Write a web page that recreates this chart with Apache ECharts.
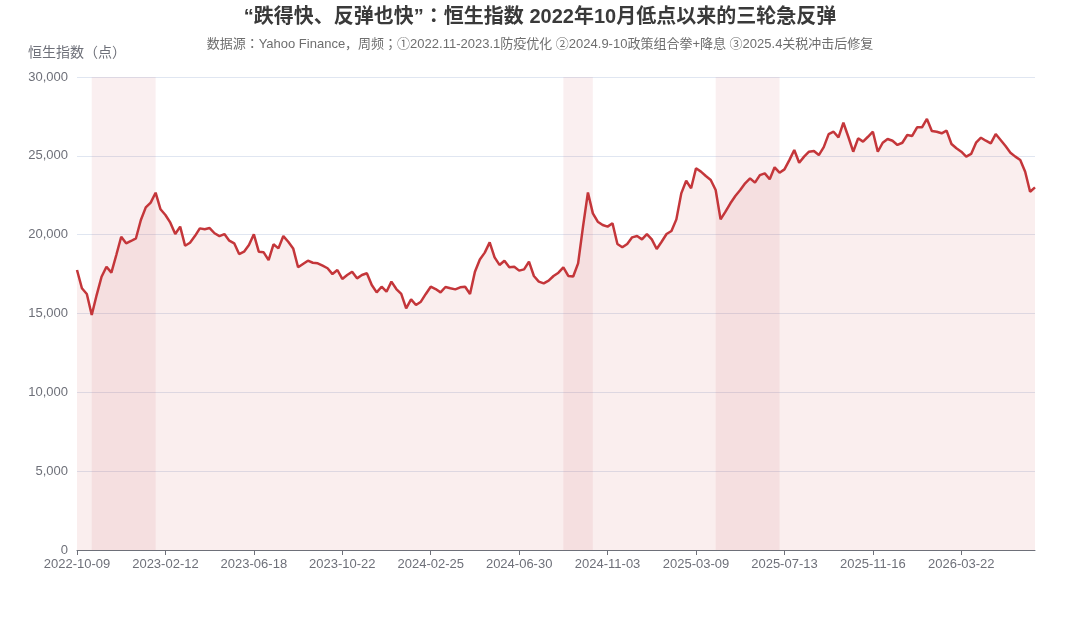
<!DOCTYPE html>
<html>
<head>
<meta charset="utf-8">
<script src="https://cdn.jsdelivr.net/npm/echarts@6/dist/echarts.min.js"></script>
<style>
html,body{margin:0;padding:0;background:#fff;}
#chart{width:1080px;height:617px;}
</style>
</head>
<body>
<div id="chart"></div>
<script>
// ---- data ----
var startDate = '2022-10-09';
var weekCount = 196;
var hsiWeekly = [
  17760,16600,16240,14900,16170,17330,17970,17590,18710,19870,
  19450,19600,19770,20930,21730,22030,22660,21610,21250,20760,
  20040,20510,19300,19490,19910,20400,20340,20420,20090,19910,
  20040,19620,19450,18770,18920,19340,20020,18920,18880,18390,
  19390,19130,19910,19550,19130,17930,18140,18350,18220,18180,
  18030,17870,17500,17760,17190,17440,17650,17230,17440,17550,
  16810,16340,16700,16380,17020,16550,16240,15330,15900,15540,
  15750,16240,16700,16550,16340,16680,16600,16530,16660,16700,
  16240,17650,18430,18860,19510,18560,18080,18350,17930,17970,
  17720,17800,18290,17380,17020,16910,17080,17380,17590,17930,
  17380,17350,18180,20510,22680,21350,20820,20610,20510,20720,
  19410,19200,19410,19830,19910,19700,20040,19700,19090,19550,
  20040,20230,20970,22620,23420,22940,24210,24000,23720,23470,
  22830,20970,21460,21990,22450,22830,23260,23570,23300,23780,
  23890,23510,24270,23930,24140,24730,25370,24560,24950,25260,
  25310,25050,25550,26380,26530,26170,27100,26210,25260,26110,
  25900,26210,26530,25260,25830,26070,25960,25690,25830,26320,
  26260,26810,26810,27340,26580,26530,26430,26600,25750,25480,
  25260,24950,25120,25830,26150,25960,25790,26380,26000,25620,
  25200,24950,24730,23990,22720,23000
];
var reboundPeriods = [
  ['2022-10-30','2023-01-29'],
  ['2024-09-01','2024-10-13'],
  ['2025-04-06','2025-07-06']
];
var yTicks = {min: 0, max: 30000, interval: 5000};
var titleText = '“跌得快、反弹也快”：恒生指数 2022年10月低点以来的三轮急反弹';
var subText = '数据源：Yahoo Finance，周频；①2022.11-2023.1防疫优化 ②2024.9-10政策组合拳+降息 ③2025.4关税冲击后修复';
var yName = '恒生指数（点）';

// ---- categories (weekly dates) ----
var weeks = [];
var t0 = Date.UTC(2022, 9, 9);
for (var i = 0; i < weekCount; i++) {
  weeks.push(new Date(t0 + i * 7 * 86400000).toISOString().slice(0, 10));
}

var FONT = "'Liberation Sans', 'Noto Sans CJK KR', sans-serif";
var chart = echarts.init(document.getElementById('chart'));
chart.setOption({
  animation: false,
  backgroundColor: '#fff',
  textStyle: {fontFamily: FONT},
  title: [
    {text: titleText, left: 'center', top: 2,
     textStyle: {fontSize: 20, fontWeight: 'bold', color: '#3a3a3a', fontFamily: FONT}},
    {text: subText, left: 'center', top: 33,
     textStyle: {fontSize: 13, fontWeight: 'normal', color: '#6e6e6e', fontFamily: FONT}}
  ],
  grid: {left: 77, right: 45, top: 77, bottom: 67, containLabel: false},
  xAxis: {
    type: 'category',
    data: weeks,
    boundaryGap: false,
    axisLine: {lineStyle: {color: '#6e7079'}},
    axisTick: {interval: 17, lineStyle: {color: '#6e7079'}},
    axisLabel: {interval: 17, color: '#6e7079', fontSize: 13, margin: 8, fontFamily: FONT}
  },
  yAxis: {
    type: 'value',
    min: yTicks.min, max: yTicks.max, interval: yTicks.interval,
    name: yName,
    nameLocation: 'end',
    nameGap: 17,
    nameTextStyle: {color: '#6e7079', fontSize: 14, fontFamily: FONT},
    axisLine: {show: false},
    axisTick: {show: false},
    axisLabel: {color: '#6e7079', fontSize: 13, margin: 9, fontFamily: FONT,
      formatter: function (v) { return v.toLocaleString('en-US'); }},
    splitLine: {lineStyle: {color: '#e0e6f1'}}
  },
  series: [{
    type: 'line',
    data: hsiWeekly,
    showSymbol: false,
    smooth: false,
    lineStyle: {color: '#c4363a', width: 2.5},
    itemStyle: {color: '#c4363a'},
    areaStyle: {color: 'rgba(196,54,58,0.12)'},
    markArea: {
      silent: true,
      itemStyle: {color: 'rgba(196,54,58,0.08)'},
      data: reboundPeriods.map(function (p) { return [{xAxis: p[0]}, {xAxis: p[1]}]; })
    }
  }]
});
</script>
</body>
</html>
